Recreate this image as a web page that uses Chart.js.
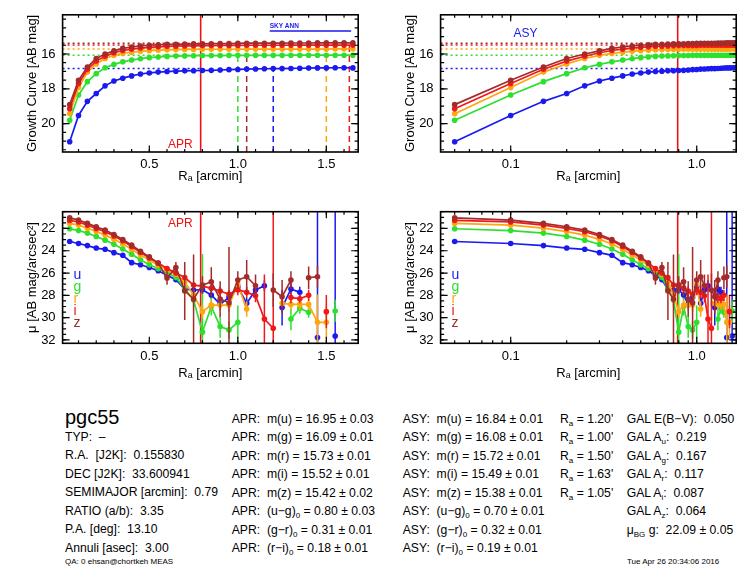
<!DOCTYPE html>
<html>
<head>
<meta charset="utf-8">
<script src="https://cdn.jsdelivr.net/npm/chart.js@4.4.1/dist/chart.umd.min.js"></script>
<style>
  body { margin: 0; background: #fff; }
  #page { position: relative; width: 756px; height: 576px; overflow: hidden; font-family: "Liberation Sans", Arial, sans-serif; color: #000; }
  canvas { position: absolute; }
  .col { position: absolute; font-size: 12.2px; }
  .col > div { height: 18.5px; line-height: 18.5px; white-space: pre; }
  .row { position: absolute; font-size: 12.2px; height: 18.5px; line-height: 18.5px; white-space: nowrap; }
  .col sub, .row sub { font-size: 8px; line-height: 0; vertical-align: -3px; }
  .small { position: absolute; font-size: 8px; line-height: 10px; white-space: pre; }
</style>
</head>
<body>
<div id="page">
  <canvas id="growth-lin" width="378" height="190" style="left:0;top:0"></canvas>
  <canvas id="growth-log" width="378" height="190" style="left:378px;top:0"></canvas>
  <canvas id="sb-lin" width="378" height="195" style="left:0;top:190px"></canvas>
  <canvas id="sb-log" width="378" height="195" style="left:378px;top:190px"></canvas>

  <div class="col" style="left:65px;top:406px;font-size:20px;line-height:22px">pgc55</div>
  <div class="col" style="left:65px;top:427.5px">
    <div>TYP:  –</div>
    <div>R.A.  [J2K]:  0.155830</div>
    <div>DEC [J2K]:  33.600941</div>
    <div>SEMIMAJOR [arcmin]:  0.79</div>
    <div>RATIO (a/b):  3.35</div>
    <div>P.A. [deg]:  13.10</div>
    <div>Annuli [asec]:  3.00</div>
  </div>
  <div class="col" style="left:231.7px;top:409.8px">
    <div>APR:  m(u) = 16.95 ± 0.03</div>
    <div>APR:  m(g) = 16.09 ± 0.01</div>
    <div>APR:  m(r) = 15.73 ± 0.01</div>
    <div>APR:  m(i) = 15.52 ± 0.01</div>
    <div>APR:  m(z) = 15.42 ± 0.02</div>
    <div>APR:  (u−g)<sub>0</sub> = 0.80 ± 0.03</div>
    <div>APR:  (g−r)<sub>0</sub> = 0.31 ± 0.01</div>
    <div>APR:  (r−i)<sub>0</sub> = 0.18 ± 0.01</div>
  </div>
  <div class="col" style="left:402.7px;top:409.8px">
    <div>ASY:  m(u) = 16.84 ± 0.01</div>
    <div>ASY:  m(g) = 16.08 ± 0.01</div>
    <div>ASY:  m(r) = 15.72 ± 0.01</div>
    <div>ASY:  m(i) = 15.49 ± 0.01</div>
    <div>ASY:  m(z) = 15.38 ± 0.01</div>
    <div>ASY:  (u−g)<sub>0</sub> = 0.70 ± 0.01</div>
    <div>ASY:  (g−r)<sub>0</sub> = 0.32 ± 0.01</div>
    <div>ASY:  (r−i)<sub>0</sub> = 0.19 ± 0.01</div>
  </div>
  <div class="col" style="left:560px;top:409.8px">
    <div>R<sub>a</sub> = 1.20'</div>
    <div>R<sub>a</sub> = 1.00'</div>
    <div>R<sub>a</sub> = 1.50'</div>
    <div>R<sub>a</sub> = 1.63'</div>
    <div>R<sub>a</sub> = 1.05'</div>
  </div>
  <div class="row" style="left:626.7px;top:409.8px">GAL E(B−V):&nbsp;&nbsp;0.050</div>
  <div class="row" style="left:626.7px;top:428.3px">GAL A<sub>u</sub>:&nbsp;&nbsp;0.219</div>
  <div class="row" style="left:626.7px;top:446.8px">GAL A<sub>g</sub>:&nbsp;&nbsp;0.167</div>
  <div class="row" style="left:626.7px;top:465.3px">GAL A<sub>r</sub>:&nbsp;&nbsp;0.117</div>
  <div class="row" style="left:626.7px;top:483.8px">GAL A<sub>i</sub>:&nbsp;&nbsp;0.087</div>
  <div class="row" style="left:626.7px;top:502.3px">GAL A<sub>z</sub>:&nbsp;&nbsp;0.064</div>
  <div class="row" style="left:626.7px;top:520.8px">μ<sub>BG</sub> g:&nbsp;&nbsp;22.09 ± 0.05</div>
  <div class="small" style="left:65px;top:556.7px">QA: 0 ehsan@chortkeh MEAS</div>
  <div class="small" style="left:627px;top:556.7px">Tue Apr 26 20:34:06 2016</div>
</div>

<script>
// ===============================
// Data
// ===============================
const radius = [0.05, 0.10, 0.15, 0.20, 0.25, 0.30, 0.35, 0.40, 0.45, 0.50, 0.55,
	0.60, 0.65, 0.70, 0.75, 0.80, 0.85, 0.90, 0.95, 1.00, 1.05, 1.10, 1.15, 1.20,
	1.25, 1.30, 1.35, 1.40, 1.45, 1.50, 1.55, 1.60, 1.65];
const bands = ["u", "g", "r", "i", "z"];

// growth curves [AB mag]
const growthU = [21.04, 19.53, 18.72, 18.27, 17.83, 17.55, 17.39, 17.26, 17.15, 17.09, 17.04,
	17.01, 16.99, 16.97, 16.96, 16.95, 16.94, 16.92, 16.90, 16.89, 16.87, 16.86, 16.85, 16.84,
	16.84, 16.83, 16.82, 16.81, 16.80, 16.80, 16.79, 16.79, 16.80];
const growthG = [19.81, 18.36, 17.59, 17.13, 16.79, 16.60, 16.45, 16.35, 16.27, 16.21, 16.17,
	16.14, 16.12, 16.11, 16.10, 16.09, 16.09, 16.09, 16.08, 16.08, 16.08, 16.08, 16.08, 16.08,
	16.08, 16.07, 16.07, 16.07, 16.07, 16.07, 16.07, 16.07, 16.07];
const growthR = [19.43, 17.93, 17.04, 16.57, 16.26, 16.08, 15.97, 15.90, 15.85, 15.81, 15.78,
	15.76, 15.75, 15.74, 15.74, 15.73, 15.73, 15.73, 15.73, 15.73, 15.72, 15.72, 15.72, 15.72,
	15.72, 15.72, 15.72, 15.72, 15.72, 15.72, 15.71, 15.71, 15.71];
const growthI = [19.15, 17.70, 16.88, 16.41, 16.13, 15.93, 15.80, 15.72, 15.66, 15.62, 15.59,
	15.56, 15.55, 15.54, 15.53, 15.52, 15.52, 15.51, 15.51, 15.51, 15.50, 15.50, 15.50, 15.50,
	15.50, 15.49, 15.49, 15.49, 15.49, 15.49, 15.49, 15.49, 15.49];
const growthZ = [18.91, 17.51, 16.75, 16.26, 16.00, 15.82, 15.68, 15.60, 15.54, 15.50, 15.47,
	15.45, 15.44, 15.43, 15.42, 15.42, 15.41, 15.40, 15.40, 15.39, 15.38, 15.38, 15.38, 15.38,
	15.38, 15.37, 15.37, 15.37, 15.36, 15.36, 15.36, 15.36, 15.36];

// surface brightness [AB mag/arcsec^2] and errors
const muU = [23.17, 23.35, 23.54, 23.76, 23.87, 24.17, 24.41, 25.07, 25.26, 25.50, 25.80,
	26.20, 26.60, 27.45, 27.52, 27.50, 27.97, 28.78, 28.20, 27.23, 28.72, 27.52, 27.14, null,
	29.10, 27.43, 27.73, null, 31.79, null, 31.64, null, null];
const errU = [0.03, 0.03, 0.03, 0.04, 0.04, 0.05, 0.06, 0.08, 0.08, 0.10, 0.12,
	0.15, 0.20, 0.30, 0.30, 0.30, 0.35, 0.40, 0.40, 0.40, 0.50, 0.50, 0.50, null,
	1.60, 0.60, 0.50, null, 12, null, 12, null, null];
const muG = [22.03, 22.19, 22.42, 22.72, 23.05, 23.42, 23.84, 24.32, 24.81, 25.25, 25.60,
	25.95, 26.40, 27.40, 28.42, 31.30, 29.00, 30.80, 31.10, 30.42, null, null, null, null,
	null, 30.12, 29.16, 29.52, null, null, 29.40, null, null];
const errG = [0.03, 0.03, 0.03, 0.03, 0.04, 0.05, 0.05, 0.06, 0.07, 0.08, 0.10,
	0.12, 0.20, 0.30, 0.60, 7.0, 0.80, 1.00, 0.80, 1.50, null, null, null, null,
	null, 1.00, 0.50, 0.50, null, null, 1.00, null, null];
const muR = [21.55, 21.70, 21.98, 22.28, 22.60, 22.98, 23.40, 23.88, 24.38, 24.84, 25.30,
	25.70, 26.10, 26.80, 27.97, 29.46, 28.87, 28.87, 28.87, 27.02, 29.22, null, null, null,
	28.72, 28.81, 28.81, 28.81, 30.42, 30.42, null, null, null];
const errR = [0.02, 0.02, 0.02, 0.03, 0.03, 0.04, 0.04, 0.05, 0.06, 0.07, 0.08,
	0.10, 0.15, 0.30, 0.50, 0.60, 0.50, 0.50, 0.60, 0.50, 0.70, null, null, null,
	0.30, 0.50, 0.50, 0.50, 2.50, 1.50, null, null, null];
const muI = [21.28, 21.42, 21.70, 22.00, 22.30, 22.68, 23.10, 23.62, 24.15, 24.65, 25.10,
	25.60, 26.00, 26.40, 27.08, 27.17, 27.37, 27.61, 27.91, 27.50, 27.73, 28.03, 30.12, 30.95,
	null, 28.20, 28.30, 28.00, null, 29.46, null, null, null];
const errI = [0.02, 0.02, 0.02, 0.03, 0.03, 0.04, 0.04, 0.05, 0.06, 0.07, 0.08,
	0.10, 0.15, 0.20, 0.30, 0.30, 0.30, 0.40, 0.40, 0.50, 0.50, 0.60, 4.0, 12,
	null, 0.50, 0.40, 0.50, null, 1.50, null, null, null];
const muZ = [21.05, 21.25, 21.55, 21.85, 22.15, 22.54, 22.99, 23.50, 24.05, 24.55, 25.10,
	26.45, 25.50, 27.60, 28.33, 27.08, 26.78, 28.33, 28.66, 26.63, 26.33, 27.14, null, 27.52,
	28.12, 26.63, null, 26.42, 26.33, null, null, null, null];
const errZ = [0.03, 0.03, 0.03, 0.04, 0.05, 0.05, 0.06, 0.08, 0.10, 0.12, 0.20,
	0.60, 0.50, 2.60, 4.00, 0.80, 1.30, 1.60, 5.00, 0.80, 1.50, 1.00, null, 1.50,
	1.50, 0.80, null, 1.00, 1.00, null, null, null, null];

// photometry summary
const asyMag = [16.84, 16.08, 15.72, 15.49, 15.38];
const asyRadius = [1.20, 1.00, 1.50, 1.63, 1.05];
const aprRadius = 0.79;
const skyAnnulus = [1.18, 1.64];
const skyAnnLevel = 14.68;

// axes
const linRange = [0.01, 1.68];
const logRange = [0.042, 1.63];
const growthRange = [13.75, 21.63];
const muRange = [20.5, 32.3];
const linTicks = [0.5, 1.0, 1.5];
const logTicks = [0.1, 1.0];
const growthTicks = [16, 18, 20];
const muTicks = [22, 24, 26, 28, 30, 32];

// ===============================
// Styles
// ===============================
const bandColors = ["#1a1af0", "#2ee02e", "#ffa510", "#f01818", "#a52a2a"];
const aprColor = "#ee1111";
const fontFamily = '"Liberation Sans", Arial, Helvetica, sans-serif';
Chart.defaults.font.family = fontFamily;
Chart.defaults.color = "#000";

// ===============================
// Plugins
// ===============================
// IDL style box with inward ticks on all four sides
const idlFrame = {
	id: "idlFrame",
	afterDatasetsDraw(chart, args, opts) {
		const { ctx, chartArea: a, scales: { x, y } } = chart;
		ctx.save();
		ctx.strokeStyle = "#000";
		ctx.lineWidth = 1.6;
		ctx.strokeRect(a.left, a.top, a.right - a.left, a.bottom - a.top);
		ctx.lineWidth = 1.2;

		const xMinor = [];
		if (opts.xLog) {
			for (let d = 0.01; d < 10; d *= 10) {
				for (let m = 1; m < 10; m++) xMinor.push(d * m);
			}
		} else {
			for (let v = Math.ceil(x.min / opts.xStep) * opts.xStep; v <= x.max; v += opts.xStep) xMinor.push(v);
		}
		const yMinor = [];
		for (let v = Math.ceil(y.min / opts.yStep) * opts.yStep; v <= y.max; v += opts.yStep) yMinor.push(v);

		const drawX = (v, len) => {
			if (v < x.min || v > x.max) return;
			const p = x.getPixelForValue(v);
			ctx.beginPath();
			ctx.moveTo(p, a.bottom); ctx.lineTo(p, a.bottom - len);
			ctx.moveTo(p, a.top); ctx.lineTo(p, a.top + len);
			ctx.stroke();
		};
		const drawY = (v, len) => {
			if (v < y.min || v > y.max) return;
			const p = y.getPixelForValue(v);
			ctx.beginPath();
			ctx.moveTo(a.left, p); ctx.lineTo(a.left + len, p);
			ctx.moveTo(a.right, p); ctx.lineTo(a.right - len, p);
			ctx.stroke();
		};
		xMinor.forEach(v => drawX(v, 3));
		opts.xMajor.forEach(v => drawX(v, 6.5));
		yMinor.forEach(v => drawY(v, 3.5));
		opts.yMajor.forEach(v => drawY(v, 7));
		ctx.restore();
	}
};

// vertical error bars, drawn just under their own series
const errorBars = {
	id: "errorBars",
	beforeDatasetDraw(chart, args) {
		const ds = chart.data.datasets[args.index];
		if (!ds.errors) return;
		const { ctx, chartArea: a } = chart;
		const yScale = chart.scales.y;
		ctx.save();
		ctx.beginPath();
		ctx.rect(a.left, a.top, a.right - a.left, a.bottom - a.top);
		ctx.clip();
		ctx.strokeStyle = ds.borderColor;
		ctx.lineWidth = 1.5;
		args.meta.data.forEach((pt, i) => {
			const v = ds.data[i].y;
			const e = ds.errors[i];
			if (v == null || !e) return;
			ctx.beginPath();
			ctx.moveTo(pt.x, yScale.getPixelForValue(v - e));
			ctx.lineTo(pt.x, yScale.getPixelForValue(v + e));
			ctx.stroke();
		});
		ctx.restore();
	}
};

// text notes placed relative to the plot area or to data values
const notes = {
	id: "notes",
	afterDraw(chart, args, opts) {
		const { ctx, chartArea: a, scales: { x, y } } = chart;
		(opts.items || []).forEach(n => {
			ctx.save();
			ctx.font = n.font || "13px " + fontFamily;
			ctx.fillStyle = n.color;
			ctx.textAlign = n.align || "left";
			ctx.textBaseline = n.baseline || "middle";
			const px = n.xv !== undefined ? x.getPixelForValue(n.xv) + (n.dx || 0) : a.left + n.dx;
			let py;
			if (n.yv !== undefined) py = y.getPixelForValue(n.yv) + (n.dy || 0);
			else py = n.fromBottom ? a.bottom - n.dy : a.top + n.dy;
			ctx.fillText(n.text, px, py);
			ctx.restore();
		});
	}
};

// ===============================
// Dataset builders
// ===============================
function bandSets(values, errors) {
	return bands.map((b, k) => ({
		label: b,
		data: radius.map((r, i) => ({ x: r, y: values[k][i] })),
		errors: errors ? errors[k] : null,
		borderColor: bandColors[k],
		backgroundColor: bandColors[k],
		borderWidth: 1.7,
		pointRadius: 2.8,
		pointBorderWidth: 0,
		order: 5 - k
	}));
}

function refLine(points, color, dash, width) {
	return {
		data: points,
		borderColor: color,
		borderWidth: width || 1.5,
		borderDash: dash || [],
		pointRadius: 0,
		order: 20
	};
}

function growthRefs(xMin, withDashes) {
	const sets = [];
	bands.forEach((b, k) => {
		sets.push(refLine([{ x: xMin, y: asyMag[k] }, { x: aprRadius, y: asyMag[k] }], bandColors[k], [2, 3]));
		if (withDashes) {
			sets.push(refLine([{ x: asyRadius[k], y: growthRange[1] }, { x: asyRadius[k], y: asyMag[k] }], bandColors[k], [6, 4]));
		}
	});
	sets.push(refLine([{ x: aprRadius, y: growthRange[0] }, { x: aprRadius, y: growthRange[1] }], aprColor, [], 1.6));
	return sets;
}

function legendNotes() {
	return bands.map((b, k) => ({
		text: b, color: bandColors[k], dx: 11, dy: 63.5 + k * 11.9, font: "14px " + fontFamily
	}));
}

// ===============================
// Chart factory
// ===============================
function makeChart(id, cfg) {
	const canvas = document.getElementById(id);
	const plotLeft = 62.6;
	const plotRight = 358.2;
	return new Chart(canvas, {
		type: "line",
		data: { datasets: cfg.datasets },
		options: {
			responsive: false,
			animation: false,
			events: [],
			layout: { padding: { left: 0, right: canvas.width - plotRight, top: cfg.plotTop, bottom: 0 } },
			plugins: {
				legend: { display: false },
				tooltip: { enabled: false },
				idlFrame: cfg.frame,
				notes: { items: cfg.notes }
			},
			scales: {
				x: {
					type: cfg.xLog ? "logarithmic" : "linear",
					position: "bottom",
					min: cfg.xRange[0],
					max: cfg.xRange[1],
					grid: { display: false, drawTicks: false },
					border: { display: false },
					ticks: { font: { size: 13 }, padding: 5, maxRotation: 0, callback: v => Number(v).toFixed(1) },
					afterBuildTicks: s => { s.ticks = cfg.xTicks.map(v => ({ value: v })); },
					afterFit: s => { s.height = canvas.height - cfg.plotBottom; },
					title: { display: true, text: "Rₐ [arcmin]", font: { size: 13 }, padding: { top: cfg.xTitlePad, bottom: cfg.xTitlePad } }
				},
				y: {
					type: "linear",
					reverse: true,
					min: cfg.yRange[0],
					max: cfg.yRange[1],
					grid: { display: false, drawTicks: false },
					border: { display: false },
					ticks: { font: { size: 13 }, padding: 7 },
					afterBuildTicks: s => { s.ticks = cfg.yTicks.map(v => ({ value: v })); },
					afterFit: s => { s.width = plotLeft; },
					title: { display: true, text: cfg.yTitle, font: { size: 13 }, padding: { top: 25, bottom: 25 } }
				}
			}
		},
		plugins: [errorBars, idlFrame, notes]
	});
}

// ===============================
// Build the four panels
// ===============================
const growthValues = [growthU, growthG, growthR, growthI, growthZ];
const muValues = [muU, muG, muR, muI, muZ];
const muErrors = [errU, errG, errR, errI, errZ];

makeChart("growth-lin", {
	datasets: bandSets(growthValues).concat(growthRefs(linRange[0], true), [
		refLine([{ x: skyAnnulus[0], y: skyAnnLevel }, { x: skyAnnulus[1], y: skyAnnLevel }], bandColors[0], [], 1.6)
	]),
	xRange: linRange, xTicks: linTicks, yRange: growthRange, yTicks: growthTicks,
	yTitle: "Growth Curve [AB mag]", plotTop: 13, plotBottom: 152, xTitlePad: 6,
	frame: { xMajor: linTicks, xStep: 0.1, yMajor: growthTicks, yStep: 0.5 },
	notes: [
		{ text: "APR", color: aprColor, xv: aprRadius, dx: -8, dy: 7, fromBottom: true, align: "right", font: "12px " + fontFamily },
		{ text: "SKY ANN", color: bandColors[0], xv: skyAnnulus[0], yv: skyAnnLevel, dy: -2, baseline: "bottom", font: "bold 6.5px " + fontFamily }
	]
});

makeChart("growth-log", {
	datasets: bandSets(growthValues).concat(growthRefs(logRange[0], false)),
	xLog: true, xRange: logRange, xTicks: logTicks, yRange: growthRange, yTicks: growthTicks,
	yTitle: "Growth Curve [AB mag]", plotTop: 13, plotBottom: 152, xTitlePad: 6,
	frame: { xMajor: logTicks, xLog: true, yMajor: growthTicks, yStep: 0.5 },
	notes: [
		{ text: "ASY", color: bandColors[0], dx: 73, dy: 19, font: "12px " + fontFamily }
	]
});

makeChart("sb-lin", {
	datasets: bandSets(muValues, muErrors).concat([
		refLine([{ x: aprRadius, y: muRange[0] }, { x: aprRadius, y: muRange[1] }], aprColor, [], 1.6)
	]),
	xRange: linRange, xTicks: linTicks, yRange: muRange, yTicks: muTicks,
	yTitle: "μ [AB mag/arcsec²]", plotTop: 21.7, plotBottom: 153.3, xTitlePad: 4,
	frame: { xMajor: linTicks, xStep: 0.1, yMajor: muTicks, yStep: 0.5 },
	notes: [
		{ text: "APR", color: aprColor, xv: aprRadius, dx: -8, dy: 11.5, align: "right", font: "12px " + fontFamily }
	].concat(legendNotes())
});

makeChart("sb-log", {
	datasets: bandSets(muValues, muErrors).concat([
		refLine([{ x: aprRadius, y: muRange[0] }, { x: aprRadius, y: muRange[1] }], aprColor, [], 1.6)
	]),
	xLog: true, xRange: logRange, xTicks: logTicks, yRange: muRange, yTicks: muTicks,
	yTitle: "μ [AB mag/arcsec²]", plotTop: 21.7, plotBottom: 153.3, xTitlePad: 4,
	frame: { xMajor: logTicks, xLog: true, yMajor: muTicks, yStep: 0.5 },
	notes: legendNotes()
});
</script>
</body>
</html>
